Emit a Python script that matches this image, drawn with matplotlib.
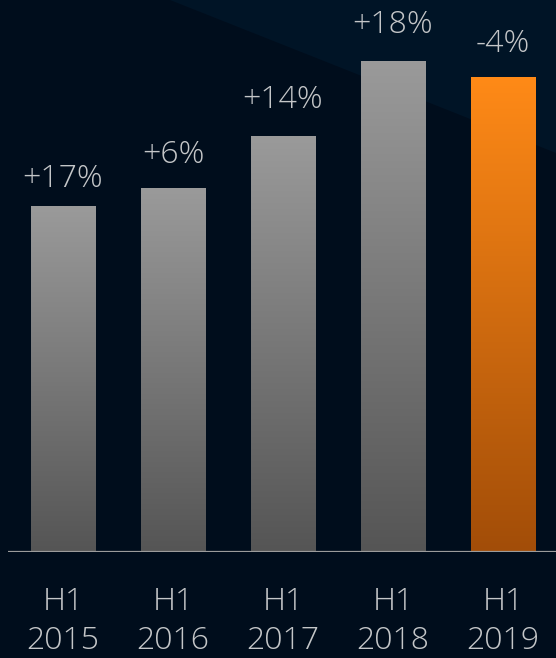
import numpy as np
import matplotlib
matplotlib.use("Agg")
import matplotlib.pyplot as plt
from matplotlib.patches import Polygon
from matplotlib.colors import LinearSegmentedColormap

plt.rcParams['font.family'] = ['Open Sans', 'DejaVu Sans']

# Data
periods = ["H1\n2015", "H1\n2016", "H1\n2017", "H1\n2018", "H1\n2019"]
values = [100.0, 105.5, 120.3, 142.3, 137.4]
growth_labels = ["+17%", "+6%", "+14%", "+18%", "-4%"]
highlight = [False, False, False, False, True]

# gap between bar top and label baseline, in pixels
label_gaps = [19, 25, 28, 28, 25]

BG_DARK = "#000d1c"
BG_LIGHT = "#001426"
TEXT = "#c4c6c8"

fig = plt.figure(figsize=(5.56, 6.58), dpi=100)
fig.patch.set_facecolor(BG_DARK)

# background layer with a lighter diagonal band across the upper right
bg = fig.add_axes([0, 0, 1, 1], zorder=-1)
bg.set_xlim(0, 556)
bg.set_ylim(658, 0)
bg.axis("off")
bg.add_patch(Polygon([(170, 0), (556, 0), (556, 153)],
                     closed=True, facecolor=BG_LIGHT, edgecolor="none"))

ax = fig.add_axes([8 / 556, 106.5 / 658, 548 / 556, 551.5 / 658])
ax.set_facecolor("none")
ax.set_xlim(-0.5, 4.482)
ymax = 551.5 / 3.45
ax.set_ylim(0, ymax)

gray_cmap = LinearSegmentedColormap.from_list("gray_grad", ["#555555", "#9a9a9a"])
orange_cmap = LinearSegmentedColormap.from_list("orange_grad", ["#a24d08", "#ff8a17"])

x = np.arange(len(values))
width = 0.582
bars = ax.bar(x, values, width=width, color="none", edgecolor="none")
grad = np.linspace(0, 1, 256).reshape(-1, 1)
for bar, hl in zip(bars, highlight):
    x0 = bar.get_x()
    h = bar.get_height()
    im = ax.imshow(grad, cmap=orange_cmap if hl else gray_cmap, origin="lower",
                   extent=[x0, x0 + bar.get_width(), 0, h], aspect="auto",
                   zorder=2, interpolation="bilinear")
    im.set_clip_path(bar)

for xi, v, lab, gap in zip(x, values, growth_labels, label_gaps):
    ax.annotate(lab, (xi, v), xytext=(0, gap * 0.72), textcoords="offset points",
                ha="center", va="baseline", color=TEXT, fontsize=23,
                fontweight="light", annotation_clip=False)

ax.axhline(0, color="#9b9b9b", lw=1.6, zorder=3)

ax.set_xticks(x)
ax.set_xticklabels(periods, color=TEXT, fontsize=23, fontweight="light",
                   linespacing=1.3)
ax.tick_params(axis="x", length=0, pad=25)
ax.set_yticks([])
for s in ax.spines.values():
    s.set_visible(False)

fig.savefig("out.png", dpi=100, facecolor=fig.get_facecolor())
